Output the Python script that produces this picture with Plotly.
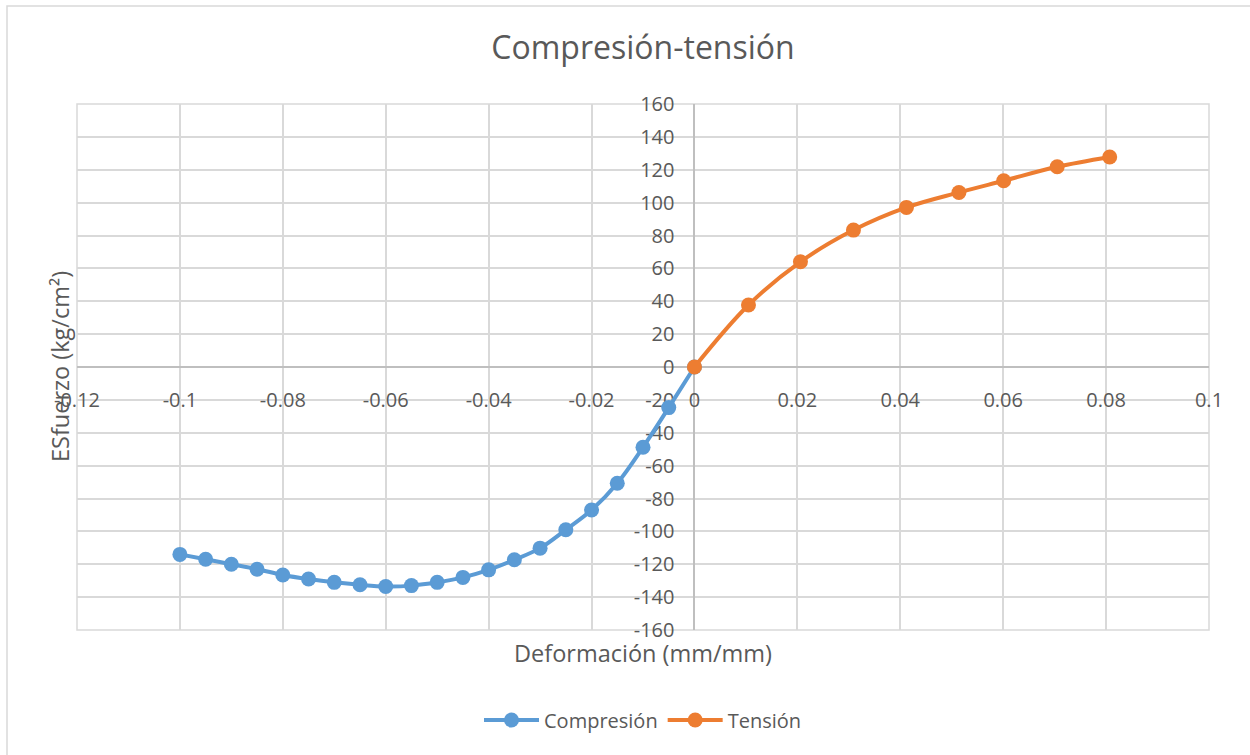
import plotly.graph_objects as go

# Compression branch (strain, stress)
comp_x = [-0.100, -0.095, -0.090, -0.085, -0.080, -0.075, -0.070, -0.065, -0.060, -0.055,
          -0.050, -0.045, -0.040, -0.035, -0.030, -0.025, -0.020, -0.015, -0.010, -0.005, 0.0]
comp_y = [-114, -117, -120, -123, -126.5, -129, -131, -132.5, -133.5, -133,
          -131, -128, -123.4, -117.3, -110.2, -99, -87, -70.7, -48.8, -24.7, 0]

# Tension branch (strain, stress)
tens_x = [0.0, 0.0105, 0.0206, 0.0309, 0.0412, 0.0514, 0.0601, 0.0705, 0.0807]
tens_y = [0, 37.7, 64, 83.3, 97.1, 106.2, 113.3, 121.8, 127.8]

x_ticks = [-0.12, -0.10, -0.08, -0.06, -0.04, -0.02, 0.0, 0.02, 0.04, 0.06, 0.08, 0.10]
x_tick_text = ["-0.12", "-0.1", "-0.08", "-0.06", "-0.04", "-0.02", "0", "0.02", "0.04", "0.06", "0.08", "0.1"]
y_ticks = list(range(-160, 161, 20))
y_tick_text = [str(v) for v in y_ticks]

BLUE = "#5B9BD5"
ORANGE = "#ED7D31"
TEXT = "#595959"
GRID = "#D9D9D9"
AXIS = "#BFBFBF"
FONT = "Open Sans"

W, H = 1250, 755
L, R, T, B = 77, 41, 104, 125
pw, ph = W - L - R, H - T - B

def px_x(p):
    return (p - L) / pw

def px_y(p):
    return (H - B - p) / ph

fig = go.Figure()
fig.add_trace(go.Scatter(
    x=comp_x, y=comp_y, name="Compresión", mode="lines+markers",
    line=dict(color=BLUE, width=4, shape="spline", smoothing=1.0),
    marker=dict(color=BLUE, size=15, symbol="circle"),
))
fig.add_trace(go.Scatter(
    x=tens_x, y=tens_y, name="Tensión", mode="lines+markers",
    line=dict(color=ORANGE, width=4, shape="spline", smoothing=1.0),
    marker=dict(color=ORANGE, size=15, symbol="circle"),
))

x_zero = (0 - x_ticks[0]) / (x_ticks[-1] - x_ticks[0])
y_zero = 0.5

fig.update_layout(
    width=W, height=H,
    margin=dict(l=L, r=R, t=T, b=B),
    paper_bgcolor="white", plot_bgcolor="white",
    font=dict(family=FONT, color=TEXT, size=20),
    title=dict(text="Compresión-tensión", x=0.5, xref="paper", xanchor="center",
               y=1 - 48 / H, yanchor="middle", font=dict(size=32, color=TEXT, family=FONT)),
    xaxis=dict(range=[x_ticks[0], x_ticks[-1]], tickvals=x_ticks, ticktext=x_tick_text,
               showgrid=True, gridcolor=GRID, gridwidth=1.5,
               zeroline=True, zerolinecolor=AXIS, zerolinewidth=2,
               anchor="free", position=y_zero, ticks="", ticklabelstandoff=19,
               tickfont=dict(size=20, color=TEXT), layer="below traces", showline=False),
    yaxis=dict(range=[y_ticks[0], y_ticks[-1]], tickvals=y_ticks, ticktext=y_tick_text,
               showgrid=True, gridcolor=GRID, gridwidth=1.5,
               zeroline=True, zerolinecolor=AXIS, zerolinewidth=2,
               anchor="free", position=x_zero, ticks="", ticklabelstandoff=20,
               tickfont=dict(size=20, color=TEXT), layer="below traces", showline=False),
    showlegend=True,
    legend=dict(orientation="h", x=0.5, xanchor="center", xref="paper",
                y=px_y(720), yanchor="middle", font=dict(size=20, color=TEXT),
                itemwidth=55),
    annotations=[
        dict(text="Deformación (mm/mm)", xref="paper", yref="paper",
             x=0.5, y=px_y(653), xanchor="center", yanchor="middle",
             showarrow=False, font=dict(size=23.5, color=TEXT, family=FONT)),
        dict(text="ESfuerzo (kg/cm²)", xref="paper", yref="paper",
             x=px_x(60), y=px_y(367), xanchor="center", yanchor="middle",
             textangle=-90, showarrow=False, font=dict(size=23.5, color=TEXT, family=FONT)),
    ],
    shapes=[
        # outer chart frame
        dict(type="rect", xref="paper", yref="paper", layer="below",
             x0=px_x(7), y0=px_y(780), x1=px_x(1280), y1=px_y(6),
             line=dict(color=GRID, width=1.5), fillcolor="rgba(0,0,0,0)"),
        # outer gridlines at the axis range limits
        dict(type="rect", xref="paper", yref="paper", layer="below",
             x0=0, y0=0, x1=1, y1=1,
             line=dict(color=GRID, width=1.5), fillcolor="rgba(0,0,0,0)"),
    ],
)

fig.write_html("out.html")
